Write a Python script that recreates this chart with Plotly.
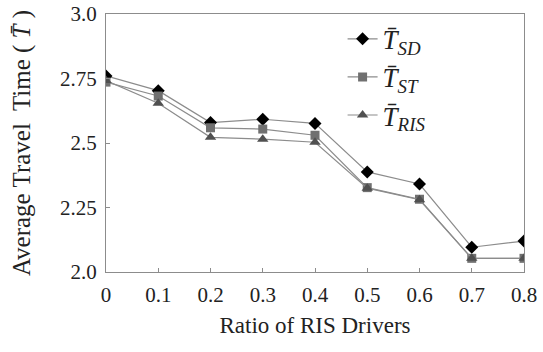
import plotly.graph_objects as go

ratio = [0, 0.1, 0.2, 0.3, 0.4, 0.5, 0.6, 0.7, 0.8]
t_sd = [2.760, 2.703, 2.579, 2.592, 2.576, 2.388, 2.341, 2.096, 2.120]
t_st = [2.736, 2.682, 2.559, 2.554, 2.530, 2.327, 2.282, 2.053, 2.053]
t_ris = [2.742, 2.654, 2.522, 2.515, 2.503, 2.325, 2.280, 2.053, 2.053]

y_ticks = [2.0, 2.25, 2.5, 2.75, 3.0]
y_tick_text = ["2.0", "2.25", "2.5", "2.75", "3.0"]
x_ticks = [0, 0.1, 0.2, 0.3, 0.4, 0.5, 0.6, 0.7, 0.8]
x_tick_text = ["0", "0.1", "0.2", "0.3", "0.4", "0.5", "0.6", "0.7", "0.8"]

FONT = "Liberation Serif, DejaVu Serif, serif"
LINE = "#8c8c8c"

def name(sub):
    return "<i>T\u0304</i><sub><i>" + sub + "</i></sub>"

fig = go.Figure()
fig.add_trace(go.Scatter(x=ratio, y=t_sd, mode="lines+markers", name=name("SD"),
                         line=dict(color=LINE, width=1.2),
                         marker=dict(symbol="diamond", size=10, color="#000000")))
fig.add_trace(go.Scatter(x=ratio, y=t_st, mode="lines+markers", name=name("ST"),
                         line=dict(color=LINE, width=1.2),
                         marker=dict(symbol="square", size=9, color="#707070")))
fig.add_trace(go.Scatter(x=ratio, y=t_ris, mode="lines+markers", name=name("RIS"),
                         line=dict(color=LINE, width=1.2),
                         marker=dict(symbol="triangle-up", size=10, color="#505050")))

fig.update_layout(
    width=543, height=352,
    margin=dict(l=106, r=19, t=14, b=80),
    paper_bgcolor="white", plot_bgcolor="white",
    font=dict(family=FONT, size=20, color="#222222"),
    showlegend=True,
    legend=dict(x=0.566, y=0.997, xanchor="left", yanchor="top",
                font=dict(family=FONT, size=27, color="#222222"),
                bgcolor="rgba(0,0,0,0)", tracegroupgap=0, itemwidth=30),
    xaxis=dict(range=[0, 0.8], tickvals=x_ticks, ticktext=x_tick_text,
               automargin=False,
               showgrid=False, zeroline=False, showline=True, linecolor=LINE,
               linewidth=1, mirror=True, ticks="inside", ticklen=4, tickcolor=LINE,
               tickfont=dict(family=FONT, size=21), ticklabelstandoff=4,
               title=dict(text="Ratio of RIS Drivers", font=dict(family=FONT, size=23), standoff=10)),
    yaxis=dict(range=[2.0, 3.0], tickvals=y_ticks, ticktext=y_tick_text,
               automargin=False,
               showgrid=False, zeroline=False, showline=True, linecolor=LINE,
               linewidth=1, mirror=True, ticks="inside", ticklen=4, tickcolor=LINE,
               tickfont=dict(family=FONT, size=21), ticklabelstandoff=4,
               title=dict(text="Average Travel  Time ( <i>T\u0304</i> )",
                          font=dict(family=FONT, size=25), standoff=22)),
)

fig.write_html("out.html", config={"displayModeBar": False},
               post_script="document.body.style.margin='0';")
